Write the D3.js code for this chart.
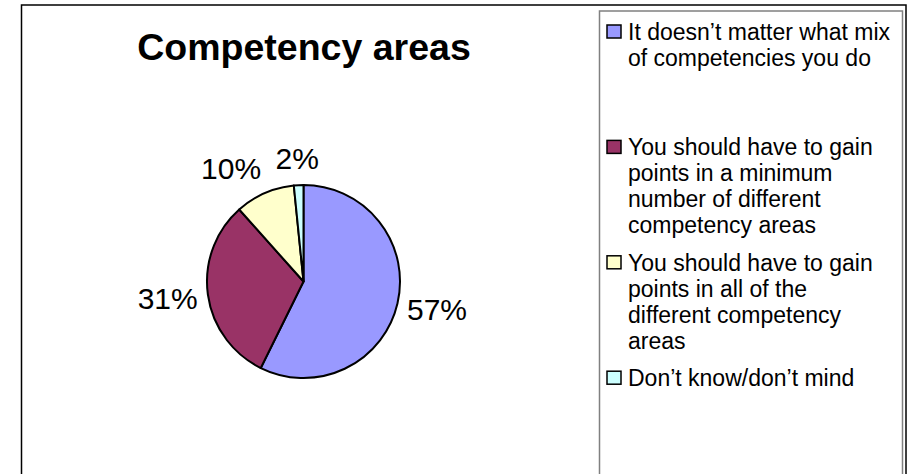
<!DOCTYPE html>
<html>
<head>
<meta charset="utf-8">
<script src="https://cdn.jsdelivr.net/npm/d3@7"></script>
<style>
  body { margin: 0; background: #fff; }
  text { font-family: "Liberation Sans", Arial, sans-serif; fill: #000; }
</style>
</head>
<body>
<svg width="914" height="474"></svg>
<script>
// chart data
var title = "Competency areas";
var categories = [
  "It doesn\u2019t matter what mix of competencies you do",
  "You should have to gain points in a minimum number of different competency areas",
  "You should have to gain points in all of the different competency areas",
  "Don\u2019t know/don\u2019t mind"
];
var legendLines = [
  ["It doesn\u2019t matter what mix", "of competencies you do"],
  ["You should have to gain", "points in a minimum", "number of different", "competency areas"],
  ["You should have to gain", "points in all of the", "different competency", "areas"],
  ["Don\u2019t know/don\u2019t mind"]
];
var values = [57.3, 31.1, 10.0, 1.6];
var colors = ["#9999FF", "#993366", "#FFFFCC", "#CCFFFF"];

var svg = d3.select("svg");

// outer chart frame
svg.append("rect")
    .attr("x", 21.5).attr("y", 5)
    .attr("width", 884.5).attr("height", 500)
    .attr("fill", "#fff")
    .attr("stroke", "#000")
    .attr("stroke-width", 1.5);

// title
svg.append("text")
    .attr("x", 304).attr("y", 60)
    .attr("text-anchor", "middle")
    .attr("font-size", 37.5)
    .attr("font-weight", "bold")
    .text(title);

// pie
var cx = 303.5, cy = 281.5, radius = 96.5;
var g = svg.append("g").attr("transform", "translate(" + cx + "," + cy + ")");

var pie = d3.pie().sort(null).value(function(d) { return d; });
var arcs = pie(values);
var arc = d3.arc().innerRadius(0).outerRadius(radius);

g.selectAll(".slice")
    .data(arcs)
    .enter().append("path")
    .attr("class", "slice")
    .attr("d", arc)
    .attr("fill", function(d, i) { return colors[i]; })
    .attr("stroke", "#000")
    .attr("stroke-width", 2)
    .attr("stroke-linejoin", "round");

// data labels, placed outside the pie
var total = d3.sum(values);
var fontSize = 30, gap = 10, halfH = 17;
var labels = arcs.map(function(d, i) {
  var a = (d.startAngle + d.endAngle) / 2;
  var dx = Math.sin(a), dy = -Math.cos(a);
  var txt = Math.round(values[i] / total * 100) + "%";
  var halfW = txt.length * 0.5 * fontSize * 0.68;
  return {
    text: txt,
    halfW: halfW,
    x: dx * (radius + gap) + dx * halfW,
    y: dy * (radius + gap) + dy * halfH
  };
});

// push overlapping labels apart (the earlier one moves left)
for (var i = labels.length - 2; i >= 0; i--) {
  var a = labels[i], b = labels[i + 1];
  var overlapY = Math.abs(a.y - b.y) < halfH * 2;
  var overlapX = a.x - a.halfW < b.x + b.halfW && a.x + a.halfW > b.x - b.halfW - 15;
  if (overlapY && overlapX && a.x < b.x) a.x = b.x - b.halfW - 15 - a.halfW;
}

g.selectAll(".label")
    .data(labels)
    .enter().append("text")
    .attr("class", "label")
    .attr("x", function(d) { return d.x; })
    .attr("y", function(d) { return d.y; })
    .attr("dy", "0.35em")
    .attr("text-anchor", "middle")
    .attr("font-size", fontSize)
    .text(function(d) { return d.text; });

// legend
svg.append("rect")
    .attr("x", 599.5).attr("y", 11)
    .attr("width", 303).attr("height", 500)
    .attr("fill", "#fff")
    .attr("stroke", "#808080")
    .attr("stroke-width", 1.5);

var legend = svg.selectAll(".legend")
    .data(categories)
    .enter().append("g")
    .attr("class", "legend")
    .attr("transform", function(d, i) { return "translate(607," + (40 + i * 115.4) + ")"; });

legend.append("rect")
    .attr("x", 0).attr("y", -15)
    .attr("width", 14).attr("height", 13)
    .attr("fill", function(d, i) { return colors[i]; })
    .attr("stroke", "#000")
    .attr("stroke-width", 1.5);

legend.append("text")
    .attr("font-size", 23)
    .selectAll("tspan")
    .data(function(d, i) { return legendLines[i]; })
    .enter().append("tspan")
    .attr("x", 21)
    .attr("y", function(d, j) { return j * 26; })
    .text(function(d) { return d; });
</script>
</body>
</html>
